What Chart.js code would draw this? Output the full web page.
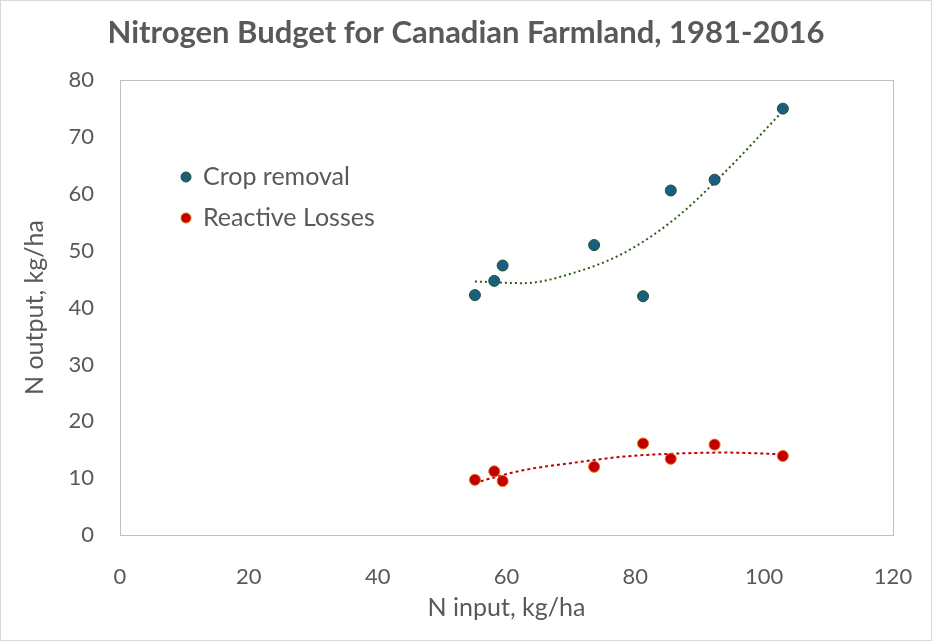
<!DOCTYPE html>
<html>
<head>
<meta charset="utf-8">
<script src="https://cdn.jsdelivr.net/npm/chart.js@4/dist/chart.umd.min.js"></script>
<style>
  html, body { margin: 0; padding: 0; background: #ffffff; }
  #wrap { width: 932px; height: 641px; position: relative; }
</style>
</head>
<body>
<div id="wrap"><canvas id="chartNitrogeno"></canvas></div>
<script>
// ===== Datos =====
const nInput = [55.1, 58.1, 59.4, 73.6, 81.2, 85.5, 92.3, 102.9];
const cropRemoval = [42.2, 44.7, 47.4, 51.0, 42.0, 60.6, 62.5, 75.0];
const reactiveLosses = [9.7, 11.2, 9.5, 12.0, 16.1, 13.4, 15.9, 13.9];

// lineas de tendencia (polinomica)
const trendX = [55.1, 62.6, 70.4, 78.2, 85.9, 93.7, 103.0];
const trendCrop = [44.6, 44.3, 46.1, 49.6, 55.4, 63.6, 74.7];
const trendReactive = [9.2, 11.4, 12.7, 13.8, 14.3, 14.5, 14.2];

const xTicks = [0, 20, 40, 60, 80, 100, 120];
const yTicks = [0, 10, 20, 30, 40, 50, 60, 70, 80];

const grisTexto = '#595959';
const fuente = 'Lato, "Open Sans", sans-serif';

function pares(xs, ys) {
    return xs.map((x, i) => ({ x: x, y: ys[i] }));
}

// leyenda dentro del area del grafico + borde exterior
const leyendaInterna = {
    id: 'leyendaInterna',
    afterDraw(chart) {
        const ctx = chart.ctx;
        ctx.save();
        ctx.strokeStyle = '#d9d9d9';
        ctx.lineWidth = 1;
        ctx.strokeRect(0.5, 0.5, chart.width - 1, chart.height - 1);

        const items = [0, 1];
        ctx.font = '25px ' + fuente;
        ctx.textBaseline = 'middle';
        items.forEach((idx, k) => {
            const ds = chart.data.datasets[idx];
            const y = 177 + k * 41;
            ctx.beginPath();
            ctx.arc(186, y, 5, 0, Math.PI * 2);
            ctx.fillStyle = ds.backgroundColor;
            ctx.fill();
            ctx.lineWidth = 1;
            ctx.strokeStyle = ds.borderColor;
            ctx.stroke();
            ctx.fillStyle = grisTexto;
            ctx.fillText(ds.label, 203, y);
        });
        ctx.restore();
    }
};

document.addEventListener('DOMContentLoaded', function() {
    const ctx = document.getElementById('chartNitrogeno');
    new Chart(ctx, {
        type: 'scatter',
        data: {
            datasets: [
                {
                    label: 'Crop removal',
                    data: pares(nInput, cropRemoval),
                    backgroundColor: '#185f80',
                    borderColor: '#24502a',
                    borderWidth: 1,
                    pointRadius: 5.5,
                    order: 1
                },
                {
                    label: 'Reactive Losses',
                    data: pares(nInput, reactiveLosses),
                    backgroundColor: '#c00000',
                    borderColor: '#e46c0a',
                    borderWidth: 1,
                    pointRadius: 5.5,
                    order: 1
                },
                {
                    label: 'tendencia crop',
                    type: 'line',
                    data: pares(trendX, trendCrop),
                    borderColor: '#2e5a1c',
                    borderWidth: 2,
                    borderDash: [2, 3],
                    pointRadius: 0,
                    fill: false,
                    tension: 0.4,
                    cubicInterpolationMode: 'monotone',
                    order: 2
                },
                {
                    label: 'tendencia reactive',
                    type: 'line',
                    data: pares(trendX, trendReactive),
                    borderColor: '#c00000',
                    borderWidth: 2,
                    borderDash: [3, 3],
                    pointRadius: 0,
                    fill: false,
                    tension: 0.4,
                    cubicInterpolationMode: 'monotone',
                    order: 2
                }
            ]
        },
        options: {
            responsive: true,
            maintainAspectRatio: false,
            animation: false,
            layout: { padding: 0 },
            plugins: {
                legend: { display: false },
                tooltip: { enabled: false },
                title: {
                    display: true,
                    text: 'Nitrogen Budget for Canadian Farmland, 1981-2016',
                    color: grisTexto,
                    font: { family: fuente, size: 31, weight: 'bold' },
                    padding: { top: 14, bottom: 29 }
                }
            },
            scales: {
                x: {
                    type: 'linear',
                    min: 0,
                    max: 120,
                    afterBuildTicks: (s) => { s.ticks = xTicks.map(v => ({ value: v })); },
                    grid: { display: false, drawTicks: false },
                    border: { display: true, color: '#bfbfbf' },
                    ticks: { color: grisTexto, font: { family: fuente, size: 22 }, padding: 29 },
                    title: {
                        display: true,
                        text: 'N input, kg/ha',
                        color: grisTexto,
                        font: { family: fuente, size: 25 },
                        padding: { top: 8, bottom: 18 }
                    },
                    afterFit: (s) => { s.height = 106; s.paddingRight = 0; s.paddingLeft = 0; }
                },
                x2: {
                    type: 'linear', position: 'top', min: 0, max: 120,
                    grid: { display: false, drawTicks: false },
                    border: { display: true, color: '#bfbfbf' },
                    ticks: { display: false },
                    afterFit: (s) => { s.height = 0; }
                },
                y: {
                    min: 0,
                    max: 80,
                    afterBuildTicks: (s) => { s.ticks = yTicks.map(v => ({ value: v })); },
                    grid: { display: false, drawTicks: false },
                    border: { display: true, color: '#bfbfbf' },
                    ticks: { color: grisTexto, font: { family: fuente, size: 22 }, padding: 26 },
                    title: {
                        display: true,
                        text: 'N output, kg/ha',
                        color: grisTexto,
                        font: { family: fuente, size: 25 },
                        padding: { top: 20, bottom: 8 }
                    },
                    afterFit: (s) => { s.width = 120; }
                },
                y2: {
                    position: 'right', min: 0, max: 80,
                    grid: { display: false, drawTicks: false },
                    border: { display: true, color: '#bfbfbf' },
                    ticks: { display: false },
                    afterFit: (s) => { s.width = 39; }
                }
            }
        },
        plugins: [leyendaInterna]
    });
});
</script>
</body>
</html>
